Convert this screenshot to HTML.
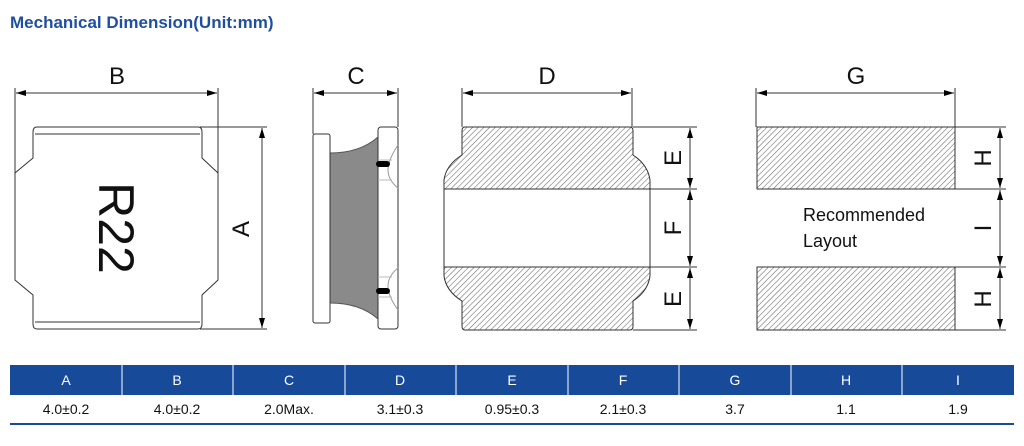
<!DOCTYPE html>
<html><head><meta charset="utf-8"><style>
html,body{margin:0;padding:0;background:#fff;width:1024px;height:446px;overflow:hidden}
svg{display:block}
</style></head><body>
<svg width="1024" height="446" viewBox="0 0 1024 446" xmlns="http://www.w3.org/2000/svg" font-family="Liberation Sans, sans-serif">
<defs>
<pattern id="h" width="4" height="4" patternUnits="userSpaceOnUse" patternTransform="rotate(45)">
<rect width="4" height="4" fill="#fff"/><line x1="0" y1="0" x2="0" y2="4" stroke="#666" stroke-width="1.1"/>
</pattern>
<marker id="a" viewBox="0 0 10 6" refX="10" refY="3" markerWidth="10" markerHeight="6" orient="auto-start-reverse" markerUnits="userSpaceOnUse">
<path d="M0,0 L10,3 L0,6 z" fill="#000"/></marker>
</defs>
<text x="10" y="28" font-size="17" font-weight="bold" fill="#1f4f9e">Mechanical Dimension(Unit:mm)</text>

<g stroke="#333" stroke-width="1" fill="none">
<line x1="15" y1="88" x2="15" y2="173"/><line x1="218" y1="88" x2="218" y2="173"/>
<line x1="16" y1="93" x2="217" y2="93" marker-start="url(#a)" marker-end="url(#a)"/>
<path d="M37,127 L198,127 Q202,127 202,132 L202,158 L218,173 L218,280 L202,295 L202,324 Q202,329 198,329 L37,329 Q33,329 33,324 L33,295 L15,280 L15,173 L33,158 L33,132 Q33,127 37,127 Z" fill="#fff"/>
<line x1="35" y1="134" x2="200" y2="134"/><line x1="35" y1="322" x2="200" y2="322"/>
<line x1="200" y1="127" x2="267" y2="127"/><line x1="200" y1="329" x2="267" y2="329"/>
<line x1="262" y1="128" x2="262" y2="328" marker-start="url(#a)" marker-end="url(#a)"/>
<line x1="313" y1="88" x2="313" y2="134"/><line x1="398" y1="88" x2="398" y2="127"/>
<line x1="314" y1="93" x2="397" y2="93" marker-start="url(#a)" marker-end="url(#a)"/>
<path d="M330,153 Q360,153 378,137 L378,319 Q360,303 330,303 Z" fill="#8a8a8a" stroke="#555"/>
<rect x="313" y="134" width="17" height="189" rx="2" fill="#fff"/>
<rect x="378" y="127" width="20" height="202" rx="3" fill="#fff"/>
<path d="M398,145 Q388,160 388,170 Q388,180 398,188 M398,268 Q388,276 388,286 Q388,296 398,310" stroke="#999"/>
<line x1="378" y1="160" x2="392" y2="160" stroke="#bbb"/><line x1="378" y1="180" x2="392" y2="180" stroke="#bbb"/>
<line x1="378" y1="277" x2="392" y2="277" stroke="#bbb"/><line x1="378" y1="297" x2="392" y2="297" stroke="#bbb"/>
<line x1="462" y1="88" x2="462" y2="127"/><line x1="632" y1="88" x2="632" y2="127"/>
<line x1="463" y1="93" x2="631" y2="93" marker-start="url(#a)" marker-end="url(#a)"/>
<path d="M465,127 L630,127 Q633,127 633,131 L633,155 Q648,165 650,180 L650,189 L444,189 L444,180 Q446,165 462,155 L462,131 Q462,127 465,127 Z" fill="url(#h)"/>
<path d="M444,189 L650,189 L650,267 L444,267 Z" fill="#fff"/>
<path d="M444,267 L650,267 L650,276 Q648,291 633,301 L633,326 Q633,330 630,330 L465,330 Q462,330 462,326 L462,301 Q446,291 444,276 Z" fill="url(#h)"/>
<line x1="633" y1="127" x2="697" y2="127"/><line x1="650" y1="189" x2="697" y2="189"/>
<line x1="650" y1="267" x2="697" y2="267"/><line x1="633" y1="330" x2="697" y2="330"/>
<line x1="690" y1="128" x2="690" y2="188" marker-start="url(#a)" marker-end="url(#a)"/>
<line x1="690" y1="190" x2="690" y2="266" marker-start="url(#a)" marker-end="url(#a)"/>
<line x1="690" y1="268" x2="690" y2="329" marker-start="url(#a)" marker-end="url(#a)"/>
<line x1="756" y1="88" x2="756" y2="127"/><line x1="955" y1="88" x2="955" y2="127"/>
<line x1="757" y1="93" x2="954" y2="93" marker-start="url(#a)" marker-end="url(#a)"/>
<rect x="757" y="127" width="198" height="62" fill="url(#h)"/>
<rect x="757" y="267" width="198" height="63" fill="url(#h)"/>
<line x1="955" y1="127" x2="1006" y2="127"/><line x1="955" y1="189" x2="1006" y2="189"/>
<line x1="955" y1="267" x2="1006" y2="267"/><line x1="955" y1="330" x2="1006" y2="330"/>
<line x1="1000" y1="128" x2="1000" y2="188" marker-start="url(#a)" marker-end="url(#a)"/>
<line x1="1000" y1="190" x2="1000" y2="266" marker-start="url(#a)" marker-end="url(#a)"/>
<line x1="1000" y1="268" x2="1000" y2="329" marker-start="url(#a)" marker-end="url(#a)"/>
</g>
<rect x="376" y="161" width="14" height="6" rx="3" fill="#000"/>
<rect x="376" y="288" width="14" height="6" rx="3" fill="#000"/>

<g font-size="24" fill="#111" text-anchor="middle">
<text x="117" y="84">B</text><text x="356" y="84">C</text><text x="547" y="84">D</text><text x="856" y="84">G</text>
<text transform="translate(249,229) rotate(-90)">A</text>
<text transform="translate(681,158) rotate(-90)">E</text>
<text transform="translate(681,228) rotate(-90)">F</text>
<text transform="translate(681,299) rotate(-90)">E</text>
<text transform="translate(991,158) rotate(-90)">H</text>
<text transform="translate(991,228) rotate(-90)">I</text>
<text transform="translate(991,299) rotate(-90)">H</text>
<text transform="translate(99,228) rotate(90)" font-size="50">R22</text>
</g>
<g font-size="18" fill="#111"><text x="803" y="221">Recommended</text><text x="803" y="247">Layout</text></g>

<rect x="10" y="365" width="1004" height="30" fill="#174a99"/>
<g stroke="#fff" stroke-width="1">
<line x1="122" y1="365" x2="122" y2="395"/><line x1="233" y1="365" x2="233" y2="395"/><line x1="345" y1="365" x2="345" y2="395"/><line x1="456" y1="365" x2="456" y2="395"/><line x1="568" y1="365" x2="568" y2="395"/><line x1="679" y1="365" x2="679" y2="395"/><line x1="791" y1="365" x2="791" y2="395"/><line x1="902" y1="365" x2="902" y2="395"/>
</g>
<rect x="10" y="423" width="1004" height="2" fill="#174a99"/>
<g font-size="14" fill="#fff" text-anchor="middle">
<text x="66" y="385">A</text><text x="177" y="385">B</text><text x="289" y="385">C</text><text x="400" y="385">D</text><text x="512" y="385">E</text><text x="623" y="385">F</text><text x="735" y="385">G</text><text x="846" y="385">H</text><text x="958" y="385">I</text>
</g>
<g font-size="14" fill="#111" text-anchor="middle">
<text x="66" y="414">4.0±0.2</text><text x="177" y="414">4.0±0.2</text><text x="289" y="414">2.0Max.</text><text x="400" y="414">3.1±0.3</text><text x="512" y="414">0.95±0.3</text><text x="623" y="414">2.1±0.3</text><text x="735" y="414">3.7</text><text x="846" y="414">1.1</text><text x="958" y="414">1.9</text>
</g>
</svg>
</body></html>
